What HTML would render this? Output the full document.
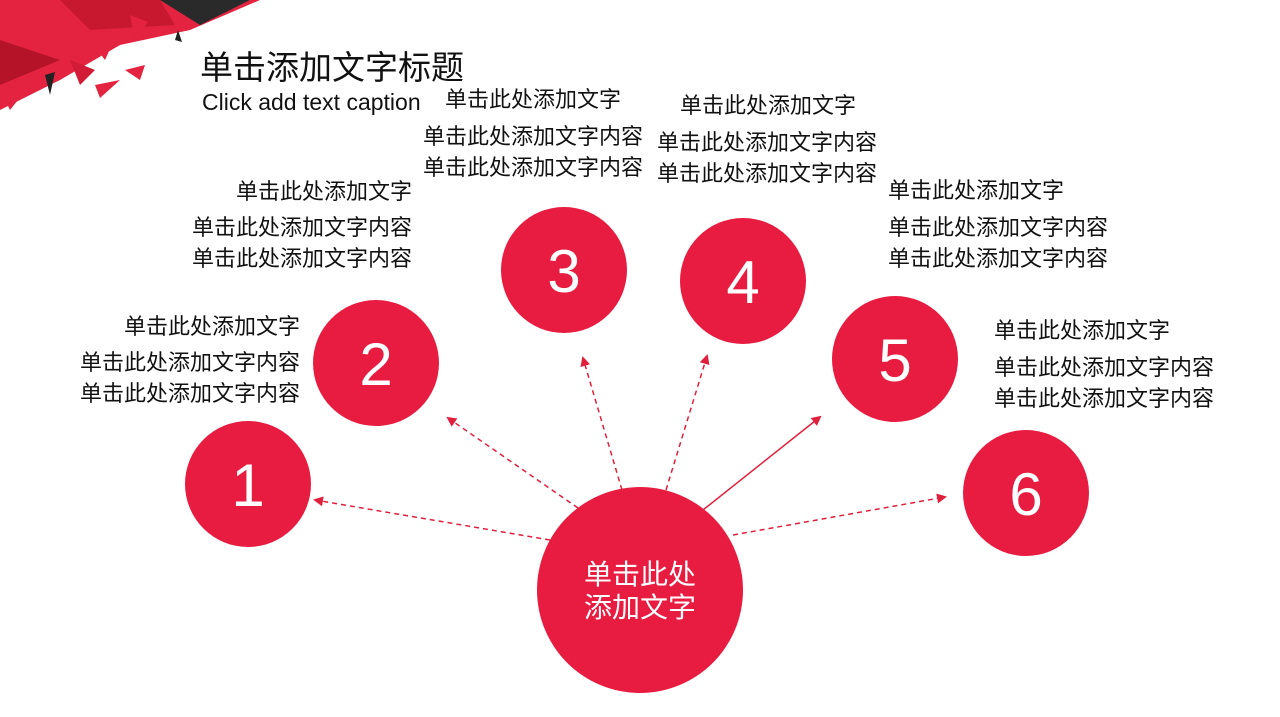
<!DOCTYPE html>
<html><head><meta charset="utf-8"><style>
body{margin:0;width:1280px;height:717px;overflow:hidden;background:#fff;position:relative;font-family:"Liberation Sans","Noto Sans CJK SC",sans-serif;}
.t{position:absolute;font-size:22px;line-height:22px;color:#111;white-space:nowrap;}
.r{text-align:right}
svg{position:absolute;left:0;top:0}
</style></head><body>
<svg width="1280" height="717">
<defs><marker id="a" markerWidth="10" markerHeight="10" refX="8" refY="5" orient="auto" markerUnits="userSpaceOnUse"><path d="M0,0 L10,5 L0,10z" fill="#e01f3d"/></marker></defs>
<polygon points="0,0 260,0 190,30 120,45 60,80 0,110" fill="#e3233f"/>
<polygon points="60,0 160,0 175,25 90,30" fill="#c8182f"/>
<polygon points="160,0 250,0 200,25" fill="#2a2a2a"/>
<polygon points="0,40 60,60 0,85" fill="#b51428"/>
<polygon points="90,40 115,38 105,60" fill="#e3233f"/>
<polygon points="130,15 148,22 135,40" fill="#e3233f"/>
<polygon points="70,60 95,70 80,85" fill="#d21b36"/>
<polygon points="95,85 120,80 100,98" fill="#e3233f"/>
<polygon points="125,70 145,65 140,80" fill="#e3233f"/>
<polygon points="0,90 30,85 10,110" fill="#e3233f"/>
<polygon points="178,30 182,42 175,40" fill="#222"/>
<polygon points="45,75 55,72 50,95" fill="#222"/>
<g stroke="#e01f3d" stroke-width="1.5" fill="none" marker-end="url(#a)">
<line x1="550" y1="540" x2="315" y2="500" stroke-dasharray="5,4"/>
<line x1="578" y1="508" x2="448" y2="418" stroke-dasharray="5,4"/>
<line x1="622" y1="490" x2="583" y2="358" stroke-dasharray="5,4"/>
<line x1="666" y1="490" x2="707" y2="356" stroke-dasharray="5,4"/>
<line x1="703" y1="510" x2="820" y2="417"/>
<line x1="733" y1="535" x2="945" y2="497" stroke-dasharray="5,4"/>
</g>
<g fill="#e81c40">
<circle cx="248" cy="484" r="63"/><circle cx="376" cy="363" r="63"/>
<circle cx="564" cy="270" r="63"/><circle cx="743" cy="281" r="63"/>
<circle cx="895" cy="359" r="63"/><circle cx="1026" cy="493" r="63"/>
<circle cx="640" cy="590" r="103"/>
</g>
<g fill="#fff" font-family="Liberation Sans Narrow, Liberation Sans, sans-serif" font-size="60" text-anchor="middle">
<text x="248" y="506">1</text><text x="376" y="385">2</text><text x="564" y="292">3</text>
<text x="743" y="303">4</text><text x="895" y="381">5</text><text x="1026" y="515">6</text>
</g>
<g fill="#fff" font-family="Liberation Sans, Noto Sans CJK SC, sans-serif" font-size="28" text-anchor="middle">
<text x="640" y="584">单击此处</text><text x="640" y="617">添加文字</text>
</g>
</svg>
<div class="t" style="left:200px;top:50px;font-size:33px;line-height:36px">单击添加文字标题</div>
<div class="t" style="left:202px;top:91px;font-size:23px">Click add text caption</div>

<div class="t r" style="right:868px;top:181px">单击此处添加文字</div>
<div class="t r" style="right:868px;top:217px">单击此处添加文字内容<br><span style="display:inline-block;margin-top:9px">单击此处添加文字内容</span></div>

<div class="t r" style="right:980px;top:316px">单击此处添加文字</div>
<div class="t r" style="right:980px;top:352px">单击此处添加文字内容<br><span style="display:inline-block;margin-top:9px">单击此处添加文字内容</span></div>

<div class="t" style="left:445px;top:89px">单击此处添加文字</div>
<div class="t" style="left:423px;top:126px">单击此处添加文字内容<br><span style="display:inline-block;margin-top:9px">单击此处添加文字内容</span></div>

<div class="t" style="left:680px;top:95px">单击此处添加文字</div>
<div class="t" style="left:657px;top:132px">单击此处添加文字内容<br><span style="display:inline-block;margin-top:9px">单击此处添加文字内容</span></div>

<div class="t" style="left:888px;top:180px">单击此处添加文字</div>
<div class="t" style="left:888px;top:217px">单击此处添加文字内容<br><span style="display:inline-block;margin-top:9px">单击此处添加文字内容</span></div>

<div class="t" style="left:994px;top:320px">单击此处添加文字</div>
<div class="t" style="left:994px;top:357px">单击此处添加文字内容<br><span style="display:inline-block;margin-top:9px">单击此处添加文字内容</span></div>
</body></html>
